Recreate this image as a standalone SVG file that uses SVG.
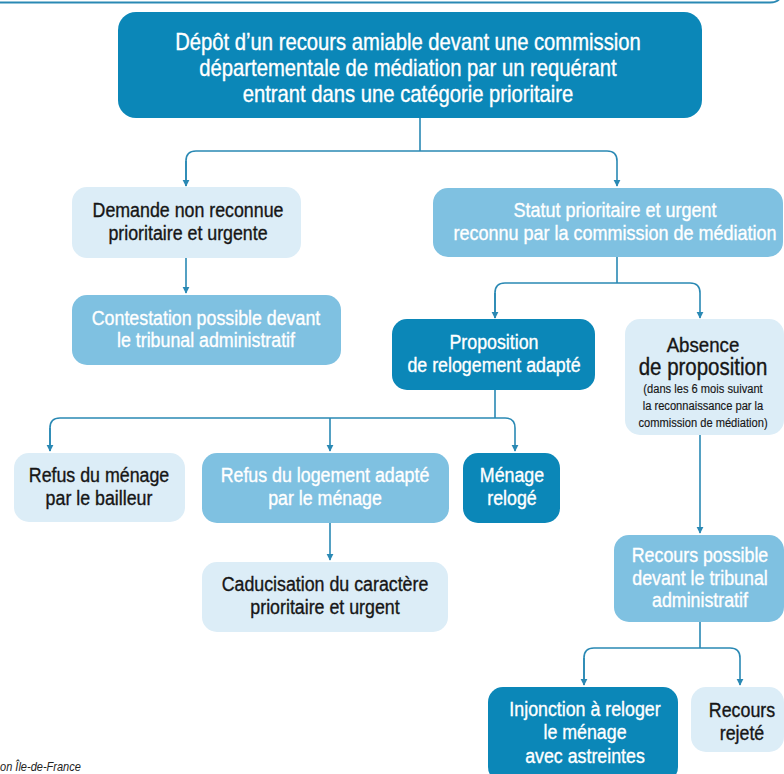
<svg xmlns="http://www.w3.org/2000/svg" width="784" height="774" viewBox="0 0 784 774">
<defs>
<style>
text{font-family:"Liberation Sans",Arial,sans-serif;text-anchor:middle}
.dark{fill:#0b87b8}
.mid{fill:#7fc1e1}
.light{fill:#dcedf7}
.tw{fill:#ffffff;font-size:20px;stroke:#ffffff;stroke-width:0.35}
.tb{fill:#161616;font-size:20px;stroke:#161616;stroke-width:0.35}
.sm{font-size:12.5px;stroke-width:0.15}
.big{font-size:23px}
.conn{fill:none;stroke:#2a89b4;stroke-width:1.6}
</style>
<marker id="ah" viewBox="0 0 10 10" refX="9" refY="5" markerWidth="7" markerHeight="8" markerUnits="userSpaceOnUse" orient="auto">
<path d="M0,0 L10,5 L0,10 z" fill="#2a89b4"/>
</marker>
</defs>
<rect width="784" height="774" fill="#ffffff"/>
<path d="M0,2.5 H770 Q779,2.5 781,-4" fill="none" stroke="#2a89b4" stroke-width="1.8"/>

<g id="connectors">
<path class="conn" d="M420,118 V151 M186,186 V161 Q186,151 196,151 H607 Q617,151 617,161 V186" marker-end="url(#ah)"/>
<path class="conn" d="M186,161 V186" marker-end="url(#ah)"/>
<path class="conn" d="M186,258 V293" marker-end="url(#ah)"/>
<path class="conn" d="M617,257 V283 M495,318 V293 Q495,283 505,283 H690 Q700,283 700,293 V318" marker-end="url(#ah)"/>
<path class="conn" d="M495,293 V318" marker-end="url(#ah)"/>
<path class="conn" d="M495,390 V418 M50,451 V428 Q50,418 60,418 H505 Q515,418 515,428 V451" marker-end="url(#ah)"/>
<path class="conn" d="M50,428 V451" marker-end="url(#ah)"/>
<path class="conn" d="M330,418 V451" marker-end="url(#ah)"/>
<path class="conn" d="M330,523 V560" marker-end="url(#ah)"/>
<path class="conn" d="M700,435 V533" marker-end="url(#ah)"/>
<path class="conn" d="M700,622 V648 M584,685 V658 Q584,648 594,648 H730 Q740,648 740,658 V685" marker-end="url(#ah)"/>
<path class="conn" d="M584,658 V685" marker-end="url(#ah)"/>
</g>

<g id="n-depot">
<rect class="dark" x="118" y="12" width="584" height="106" rx="18"/>
<g transform="translate(408 0) scale(0.88 1)">
<text class="tw big" x="0" y="50">Dépôt d’un recours amiable devant une commission</text>
<text class="tw big" x="0" y="76">départementale de médiation par un requérant</text>
<text class="tw big" x="0" y="102">entrant dans une catégorie prioritaire</text>
</g>
</g>

<g id="n-demande">
<rect class="light" x="72" y="187" width="229" height="71" rx="15"/>
<g transform="translate(188 0) scale(0.89 1)">
<text class="tb" x="0" y="217">Demande non reconnue</text>
<text class="tb" x="0" y="240">prioritaire et urgente</text>
</g>
</g>

<g id="n-contestation">
<rect class="mid" x="72" y="295" width="269" height="70" rx="15"/>
<g transform="translate(206 0) scale(0.89 1)">
<text class="tw" x="0" y="325">Contestation possible devant</text>
<text class="tw" x="0" y="347">le tribunal administratif</text>
</g>
</g>

<g id="n-statut">
<rect class="mid" x="433" y="188" width="350" height="69" rx="15"/>
<g transform="translate(615 0) scale(0.9 1)">
<text class="tw" x="0" y="217">Statut prioritaire et urgent</text>
<text class="tw" x="0" y="240">reconnu par la commission de médiation</text>
</g>
</g>

<g id="n-proposition">
<rect class="dark" x="392" y="319" width="203" height="71" rx="15"/>
<g transform="translate(494 0) scale(0.89 1)">
<text class="tw" x="0" y="349">Proposition</text>
<text class="tw" x="0" y="372">de relogement adapté</text>
</g>
</g>

<g id="n-absence">
<rect class="light" x="625" y="319" width="159" height="116" rx="15"/>
<g transform="translate(703 0) scale(0.89 1)">
<text class="tb" style="font-size:21px" x="0" y="352">Absence</text>
<text class="tb" style="font-size:23px" x="0" y="375">de proposition</text>
<text class="tb sm" x="0" y="393">(dans les 6 mois suivant</text>
<text class="tb sm" x="0" y="410">la reconnaissance par la</text>
<text class="tb sm" x="0" y="427">commission de médiation)</text>
</g>
</g>

<g id="n-refus-bailleur">
<rect class="light" x="14" y="453" width="171" height="69" rx="15"/>
<g transform="translate(99 0) scale(0.89 1)">
<text class="tb" x="0" y="482">Refus du ménage</text>
<text class="tb" x="0" y="505">par le bailleur</text>
</g>
</g>

<g id="n-refus-menage">
<rect class="mid" x="202" y="453" width="247" height="70" rx="15"/>
<g transform="translate(325 0) scale(0.89 1)">
<text class="tw" x="0" y="482">Refus du logement adapté</text>
<text class="tw" x="0" y="505">par le ménage</text>
</g>
</g>

<g id="n-reloge">
<rect class="dark" x="463" y="453" width="97" height="70" rx="15"/>
<g transform="translate(512 0) scale(0.89 1)">
<text class="tw" x="0" y="482">Ménage</text>
<text class="tw" x="0" y="505">relogé</text>
</g>
</g>

<g id="n-caducisation">
<rect class="light" x="202" y="562" width="246" height="70" rx="15"/>
<g transform="translate(325 0) scale(0.89 1)">
<text class="tb" x="0" y="591">Caducisation du caractère</text>
<text class="tb" x="0" y="614">prioritaire et urgent</text>
</g>
</g>

<g id="n-recours">
<rect class="mid" x="614" y="535" width="170" height="87" rx="15"/>
<g transform="translate(700 0) scale(0.89 1)">
<text class="tw" x="0" y="562">Recours possible</text>
<text class="tw" x="0" y="585">devant le tribunal</text>
<text class="tw" x="0" y="607">administratif</text>
</g>
</g>

<g id="n-injonction">
<rect class="dark" x="488" y="687" width="190" height="95" rx="15"/>
<g transform="translate(585 0) scale(0.89 1)">
<text class="tw" x="0" y="716">Injonction à reloger</text>
<text class="tw" x="0" y="739">le ménage</text>
<text class="tw" x="0" y="763">avec astreintes</text>
</g>
</g>

<g id="n-rejete">
<rect class="light" x="691" y="687" width="93" height="65" rx="15"/>
<g transform="translate(742 0) scale(0.89 1)">
<text class="tb" x="0" y="717">Recours</text>
<text class="tb" x="0" y="740">rejeté</text>
</g>
</g>

<g transform="scale(0.92 1)">
<text x="0" y="771" style="font-size:12px;font-style:italic;text-anchor:start;fill:#222">on Île-de-France</text>
</g>
</svg>
